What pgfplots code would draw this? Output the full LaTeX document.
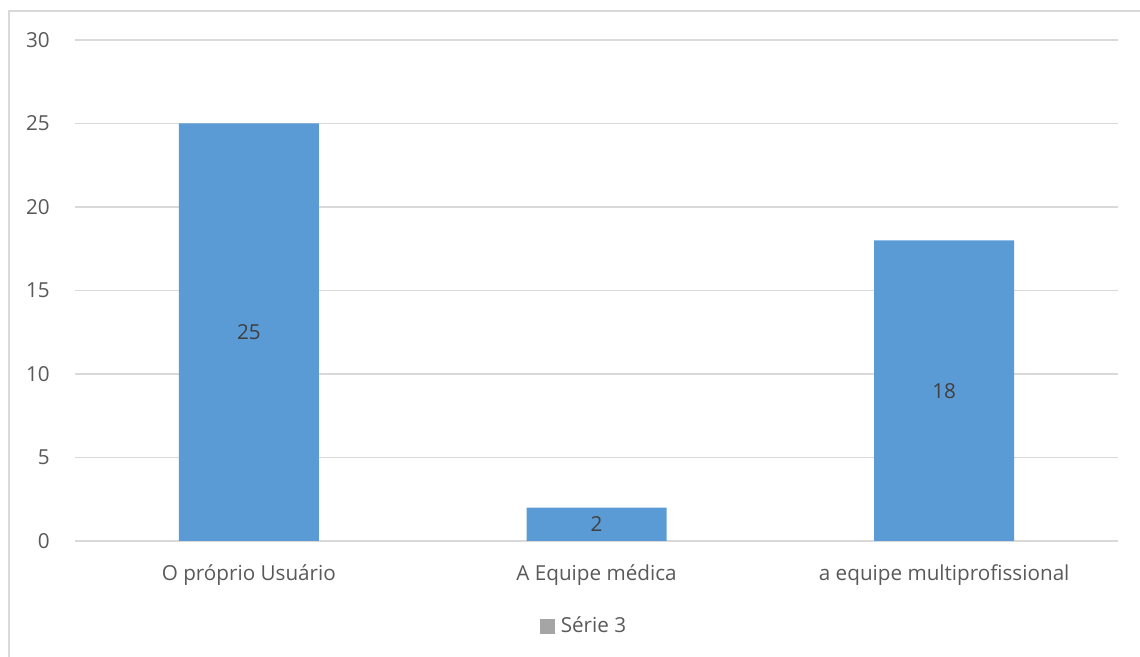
\documentclass[border=0pt]{standalone}
\usepackage{fontspec}
\setmainfont{Open Sans}
\usepackage{pgfplots}
\pgfplotsset{compat=1.18}
\definecolor{barblue}{HTML}{5B9BD5}
\definecolor{txtgray}{HTML}{595959}
\definecolor{gridgray}{HTML}{D9D9D9}
\definecolor{leggray}{HTML}{A5A5A5}
\definecolor{lblgray}{HTML}{404040}
\newcommand{\chartfont}{\fontsize{15.5}{18}\selectfont}
\begin{document}
\begin{tikzpicture}
\useasboundingbox (0,0) rectangle (855pt,492.75pt);
\draw[gridgray, line width=1.5pt] (6.75pt,-20pt) -- (6.75pt,484.5pt) -- (880pt,484.5pt);
\begin{axis}[
  at={(56.25pt,87pt)}, anchor=south west,
  scale only axis,
  width=782.25pt, height=375.75pt,
  xmin=-0.5, xmax=2.5,
  ymin=0, ymax=30,
  ytick={0,5,...,30},
  xtick={0,1,2},
  xticklabels={O próprio Usuário, A Equipe médica, a equipe multiprofissional},
  axis line style={draw=none},
  major tick length=0pt,
  ymajorgrids,
  grid style={gridgray, line width=1pt},
  /pgf/number format/assume math mode=true,
  yticklabel style={font=\chartfont, text=txtgray, anchor=east, inner sep=0pt, xshift=-18.75pt},
  xticklabel style={font=\chartfont, text=txtgray, anchor=base, inner sep=0pt, yshift=-30pt},
  legend style={at={(0.4458,-0.1697)}, anchor=west, draw=none, fill=none,
    inner sep=0pt, font=\chartfont, text=txtgray,
    nodes={inner sep=0pt},
    /tikz/every even column/.append style={column sep=0pt},
    /tikz/every odd column/.append style={column sep=4.5pt}},
  clip=false,
]
\addplot[ybar, bar width=105pt, bar shift=0pt, fill=barblue, draw=none, forget plot,
  visualization depends on=y \as \rawy,
  nodes near coords,
  every node near coord/.append style={font=\chartfont, text=lblgray, anchor=center,
    shift={(axis direction cs:0,-\rawy/2)}},
] coordinates {(0,25) (1,2) (2,18)};
\addlegendimage{legend image code/.code={\fill[leggray] (0pt,-5.25pt) rectangle (10.5pt,5.25pt);}}
\addlegendentry{Série 3}
\end{axis}
\end{tikzpicture}
\end{document}
